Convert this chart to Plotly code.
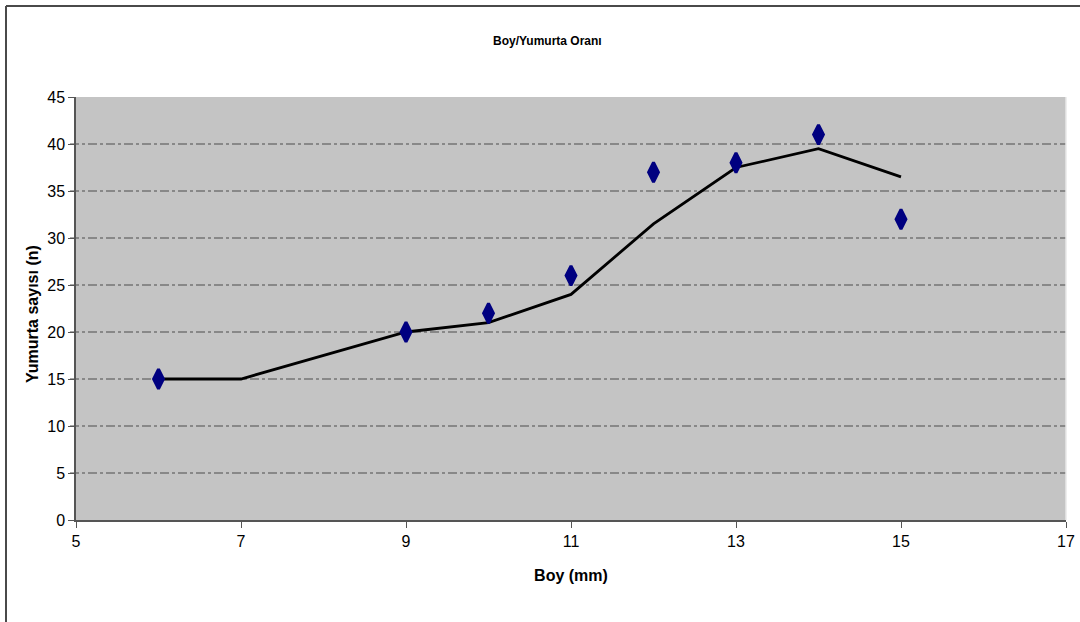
import plotly.graph_objects as go

# Observed egg counts by body length
boy = [6, 9, 10, 11, 12, 13, 14, 15]
yumurta = [15, 20, 22, 26, 37, 38, 41, 32]

# Smoothed trend line values
trend_x = [6, 7, 9, 10, 11, 12, 13, 14, 15]
trend_y = [15, 15, 20, 21, 24, 31.5, 37.5, 39.5, 36.5]

x_ticks = [5, 7, 9, 11, 13, 15, 17]
y_ticks = [0, 5, 10, 15, 20, 25, 30, 35, 40, 45]

W, H = 1080, 622
L, R, T, B = 76, 14, 97, 102
PW, PH = W - L - R, H - T - B

FONT = "Liberation Sans, Arial, sans-serif"

fig = go.Figure()
fig.add_trace(go.Scatter(
    x=trend_x, y=trend_y, mode="lines",
    line=dict(color="black", width=2.8),
    hoverinfo="skip", showlegend=False,
))
fig.add_trace(go.Scatter(
    x=boy, y=yumurta, mode="markers",
    marker=dict(symbol="diamond-tall", size=14, color="#000080",
                line=dict(width=3, color="#000080")),
    showlegend=False,
))


def px_x(p):
    return (p - L) / PW


def px_y(p):
    return (H - B - p) / PH


shapes = [
    # outer chart frame
    dict(type="line", xref="paper", yref="paper",
         x0=px_x(6), x1=px_x(W), y0=px_y(6), y1=px_y(6),
         line=dict(color="#4a4a4a", width=2)),
    dict(type="line", xref="paper", yref="paper",
         x0=px_x(6), x1=px_x(6), y0=px_y(6), y1=px_y(H),
         line=dict(color="#4a4a4a", width=2)),
    # light right edge of the plot area
    dict(type="line", xref="paper", yref="paper",
         x0=1, x1=1, y0=0, y1=1,
         line=dict(color="#e8e8e8", width=1.5)),
]
# dash-dot gridlines
for v in y_ticks[1:-1]:
    shapes.append(dict(type="line", xref="paper", yref="y",
                       x0=px_x(70), x1=1, y0=v, y1=v, layer="below",
                       line=dict(color="#4d4d4d", width=1, dash="dashdot")))

fig.update_layout(
    width=W, height=H,
    autosize=False,
    margin=dict(l=L, r=R, t=T, b=B),
    paper_bgcolor="white",
    plot_bgcolor="#c4c4c4",
    font=dict(family=FONT, color="black", size=16),
    shapes=shapes,
    annotations=[
        dict(
            text="<b>Boy/Yumurta Oranı</b>", xref="paper", yref="paper",
            x=px_x(547), y=px_y(41), xanchor="center", yanchor="middle",
            showarrow=False,
            font=dict(family=FONT, size=12, color="black"),
        ),
        dict(
            text="<b>Yumurta sayısı (n)</b>", xref="paper", yref="paper",
            x=px_x(32), y=px_y(314), xanchor="center", yanchor="middle",
            textangle=-90, showarrow=False,
            font=dict(family=FONT, size=16, color="black"),
        ),
    ],
    xaxis=dict(
        range=[5, 17], tickvals=x_ticks, ticktext=[str(v) for v in x_ticks],
        showgrid=False, zeroline=False, showline=True, automargin=False,
        linecolor="#555555", linewidth=1.5,
        ticks="outside", ticklen=6, tickcolor="#555555",
        tickfont=dict(size=16),
        title=dict(text="<b>Boy (mm)</b>", font=dict(size=16), standoff=21),
    ),
    yaxis=dict(
        range=[0, 45], tickvals=y_ticks, ticktext=[str(v) for v in y_ticks],
        showgrid=False, zeroline=False, showline=True, automargin=False,
        linecolor="#555555", linewidth=1.5,
        ticks="outside", ticklen=6, tickcolor="#555555",
        tickfont=dict(size=16),
    ),
)

fig.write_html(
    "out.html",
    config={"responsive": False},
    post_script="document.body.style.margin='0';document.body.style.overflow='hidden';",
)
